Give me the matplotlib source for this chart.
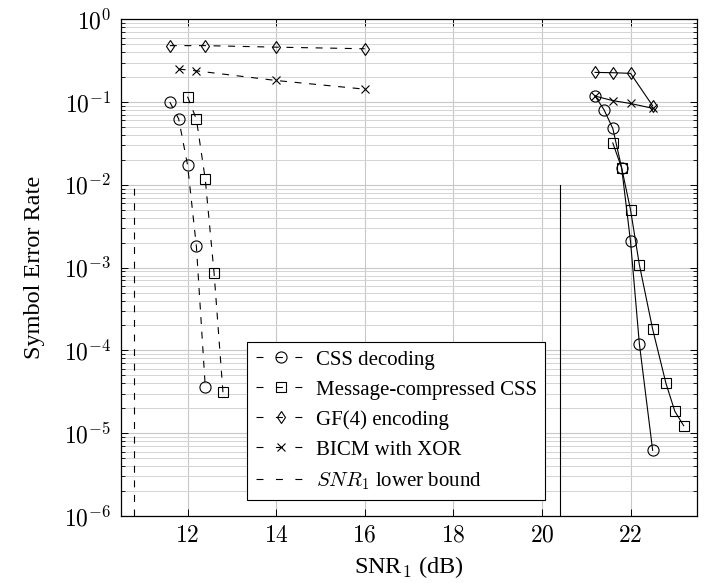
import math
import matplotlib
matplotlib.use('Agg')
import matplotlib.pyplot as plt
from matplotlib.ticker import FixedLocator, FuncFormatter, LogLocator, NullFormatter

# left group (dashed)
x_css_l = [11.6, 11.8, 12.0, 12.2, 12.4]
y_css_l = [0.10, 0.0625, 0.0174, 1.8e-3, 3.65e-5]
x_msg_l = [12.0, 12.2, 12.4, 12.6, 12.8]
y_msg_l = [0.116, 0.062, 0.0117, 8.5e-4, 3.1e-5]
x_gf4_l = [11.6, 12.4, 14.0, 16.0]
y_gf4_l = [0.48, 0.48, 0.46, 0.44]
x_bicm_l = [11.8, 12.2, 14.0, 16.0]
y_bicm_l = [0.25, 0.238, 0.182, 0.143]

# right group (solid)
x_css_r = [21.2, 21.4, 21.6, 21.8, 22.0, 22.2, 22.5]
y_css_r = [0.118, 0.081, 0.048, 0.016, 2.07e-3, 1.2e-4, 6.2e-6]
x_msg_r = [21.6, 21.8, 22.0, 22.2, 22.5, 22.8, 23.0, 23.2]
y_msg_r = [0.032, 0.016, 5.0e-3, 1.08e-3, 1.8e-4, 4.0e-5, 1.84e-5, 1.23e-5]
x_gf4_r = [21.2, 21.6, 22.0, 22.5]
y_gf4_r = [0.228, 0.226, 0.222, 0.090]
x_bicm_r = [21.2, 21.6, 22.0, 22.5]
y_bicm_r = [0.118, 0.104, 0.096, 0.084]

# lower bounds
x_bound_l = [10.8, 10.8]
x_bound_r = [20.4, 20.4]
y_bound = [1e-6, 1e-2]

labels = ['CSS decoding', 'Message-compressed CSS', 'GF(4) encoding',
          'BICM with XOR', '$SNR_1$ lower bound']

plt.rcParams['font.family'] = 'serif'
plt.rcParams['font.serif'] = ['Liberation Serif', 'DejaVu Serif']
plt.rcParams['mathtext.fontset'] = 'cm'
plt.rcParams['lines.scale_dashes'] = False

fig = plt.figure(figsize=(7.04, 5.83), dpi=100)
ax = fig.add_axes([0.172, 0.115, 0.818, 0.852])

dash = (0, (5, 5.5))
lw = 0.8
mk = dict(markerfacecolor='none', markeredgecolor='black', markeredgewidth=0.8)

ax.plot(x_css_l, y_css_l, color='black', lw=lw, linestyle=dash, marker='o', ms=8, label=labels[0], **mk)
ax.plot(x_msg_l, y_msg_l, color='black', lw=lw, linestyle=dash, marker='s', ms=7.5, label=labels[1], **mk)
ax.plot(x_gf4_l, y_gf4_l, color='black', lw=lw, linestyle=dash, marker='d', ms=6.5, label=labels[2], **mk)
ax.plot(x_bicm_l, y_bicm_l, color='black', lw=lw, linestyle=dash, marker='x', ms=6, label=labels[3], **mk)
ax.plot(x_bound_l, y_bound, color='black', lw=lw, linestyle=dash, label=labels[4])

ax.plot(x_css_r, y_css_r, color='black', lw=lw, marker='o', ms=8, **mk)
ax.plot(x_msg_r, y_msg_r, color='black', lw=lw, marker='s', ms=7.5, **mk)
ax.plot(x_gf4_r, y_gf4_r, color='black', lw=lw, marker='d', ms=6.5, **mk)
ax.plot(x_bicm_r, y_bicm_r, color='black', lw=lw, marker='x', ms=6, **mk)
ax.plot(x_bound_r, y_bound, color='black', lw=lw)

ax.set_yscale('log')
ax.set_xlim(10.5, 23.5)
ax.set_ylim(1e-6, 1e0)
ax.xaxis.set_major_locator(FixedLocator([12, 14, 16, 18, 20, 22]))
ax.yaxis.set_major_locator(FixedLocator([1e-6, 1e-5, 1e-4, 1e-3, 1e-2, 1e-1, 1e0]))
ax.yaxis.set_minor_locator(LogLocator(base=10, subs=range(2, 10), numticks=10))
ax.yaxis.set_minor_formatter(NullFormatter())
ax.yaxis.set_major_formatter(FuncFormatter(lambda v, p: r'$10^{%d}$' % round(math.log10(v))))
ax.xaxis.set_major_formatter(FuncFormatter(lambda v, p: r'$%d$' % v))

ax.grid(True, which='major', color='#c8c8c8', lw=0.8)
ax.grid(True, which='minor', axis='y', color='#d4d4d4', lw=0.7)
ax.set_axisbelow(True)
ax.tick_params(which='both', direction='in', top=True, right=True, labelsize=17)
ax.tick_params(which='major', length=5, width=0.7, pad=7)
ax.tick_params(which='minor', length=3, width=0.6)
for s in ax.spines.values():
    s.set_linewidth(0.9)

ax.set_xlabel('SNR$_1$ (dB)', fontsize=17.5, labelpad=5)
ax.set_ylabel('Symbol Error Rate', fontsize=17.5, labelpad=14)

leg = ax.legend(loc='lower left', bbox_to_anchor=(0.219, 0.032), fontsize=15,
                frameon=True, fancybox=False, edgecolor='black', framealpha=1,
                handlelength=2.4, handletextpad=0.5, labelspacing=0.5,
                borderpad=0.4, borderaxespad=0)
leg.get_frame().set_linewidth(0.8)
for ln in leg.get_lines():
    ln.set_linestyle((0, (5, 9)))

fig.savefig('out.png', dpi=100)
